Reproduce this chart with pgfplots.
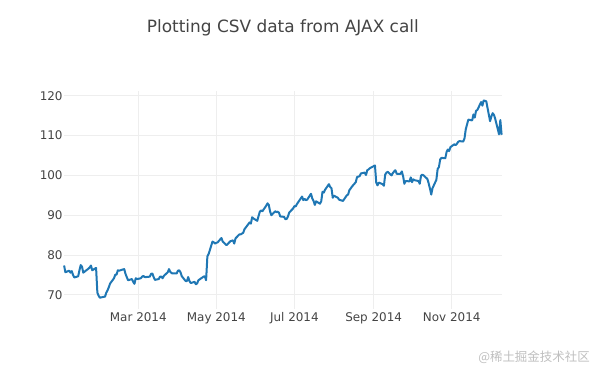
\documentclass[border=0pt]{standalone}
\usepackage{pgfplots}
\pgfplotsset{compat=1.18}
\usepackage{pgfplotstable}
\usepackage{fontspec}
\setmainfont{DejaVu Sans}
\newfontfamily\cjk{Noto Sans CJK SC}
\definecolor{plotblue}{HTML}{1F77B4}
\definecolor{txt}{HTML}{444444}
\definecolor{gridc}{HTML}{EEEEEE}
\pgfplotstableread{
day value
1 77.4
2 75.7
5 76.1
6 75.6
7 76.0
8 75.0
9 74.4
12 74.7
13 76.2
14 77.5
15 77.1
16 75.6
20 76.6
21 76.9
22 77.4
23 76.2
26 76.8
27 70.6
28 69.8
29 69.3
30 69.4
33 69.6
34 70.6
35 71.2
36 72.0
37 72.9
40 74.2
41 75.1
42 75.1
43 76.2
44 76.1
48 76.5
49 75.3
50 74.5
51 73.7
54 74.0
55 73.3
56 72.8
57 74.2
58 74.0
61 74.2
62 74.6
63 74.8
64 74.5
65 74.5
68 74.6
69 75.3
70 75.4
71 74.5
72 73.8
75 74.0
76 74.6
77 74.6
78 74.2
79 74.8
82 75.7
83 76.5
84 75.8
85 75.5
86 75.4
89 75.4
90 76.1
91 76.2
92 75.7
93 74.7
96 73.5
97 73.5
98 74.5
99 73.5
100 73.0
103 73.3
104 72.7
105 72.9
106 73.7
110 74.6
111 74.7
112 73.7
113 79.7
114 80.3
117 83.4
118 83.2
119 82.9
120 83.1
121 83.2
124 84.3
125 83.4
126 83.1
127 82.8
128 82.5
131 83.5
132 83.6
133 83.7
134 82.9
135 84.2
138 85.2
139 85.2
140 85.4
141 85.6
142 86.5
146 88.2
147 87.9
148 89.5
149 89.2
152 88.6
153 89.8
154 90.9
155 91.2
156 91.0
159 92.4
160 93.0
161 92.6
162 91.0
163 90.0
166 91.0
167 90.8
168 90.9
169 90.6
170 89.7
173 89.6
174 89.0
175 89.1
176 89.7
177 90.7
180 91.7
181 92.3
182 92.2
183 92.8
187 94.7
188 93.8
189 94.1
190 93.8
191 93.9
194 95.4
195 94.2
196 93.6
197 92.6
198 93.5
201 92.9
202 93.5
203 95.9
204 95.7
205 96.4
208 97.8
209 97.1
210 96.8
211 94.4
212 94.9
215 94.4
216 93.9
217 93.8
218 93.7
219 93.6
222 95.0
223 95.2
224 96.3
225 96.7
226 97.2
229 98.3
230 99.6
231 99.7
232 99.8
233 100.5
236 100.7
237 100.1
238 101.3
239 101.5
240 101.8
244 102.5
245 98.2
246 97.5
247 98.2
250 97.8
251 97.4
252 100.2
253 100.7
254 100.9
257 100.0
258 100.6
259 101.0
260 101.3
261 100.4
264 100.4
265 101.0
266 99.8
267 97.9
268 98.6
271 98.5
272 99.5
273 98.3
274 99.0
275 98.8
278 98.6
279 97.9
280 99.9
281 100.2
282 100.0
285 99.1
286 98.0
287 96.7
288 95.2
289 96.8
292 98.9
293 101.6
294 102.1
295 104.0
296 104.4
299 104.3
300 105.9
301 106.5
302 106.1
303 107.1
306 107.8
307 107.6
308 107.9
309 108.4
310 108.6
313 108.5
314 109.3
315 111.6
316 112.8
317 114.0
320 113.8
321 115.3
322 114.5
323 116.2
324 116.4
327 118.4
328 117.5
329 118.8
331 118.6
334 113.6
335 114.8
336 115.6
337 115.2
338 114.2
341 110.3
342 113.9
343 110.2
}\aapl
\begin{document}
\begin{tikzpicture}
\useasboundingbox (0,0) rectangle (595bp,371bp);
\begin{axis}[
  at={(64.1bp,62.05bp)}, anchor=south west,
  scale only axis, width=437.5bp, height=218.05bp,
  xmin=1, xmax=343, ymin=66.5, ymax=121.2,
  axis line style={draw=none},
  major tick length=0pt,
  grid=major,
  major grid style={draw=gridc, line width=1bp},
  xtick={59,120,181,243,304},
  xticklabels={Mar 2014,May 2014,Jul 2014,Sep 2014,Nov 2014},
  ytick={70,80,90,100,110,120},
  /pgf/number format/assume math mode=true,
  tick label style={font=\fontsize{12}{14}\selectfont, text=txt},
  yticklabel style={xshift=2bp},
  title={Plotting CSV data from AJAX call},
  title style={at={(0.5,1)}, anchor=center, yshift=57bp, font=\fontsize{17}{20}\selectfont, text=txt},
  clip=false,
]
\addplot[plotblue, line width=2bp, line join=round, no markers] table[x=day, y=value] {\aapl};
\end{axis}
\node[text=black!25, font=\cjk\fontsize{12.5}{14}\selectfont] at (534bp,14bp) {@稀土掘金技术社区};
\end{tikzpicture}
\end{document}
